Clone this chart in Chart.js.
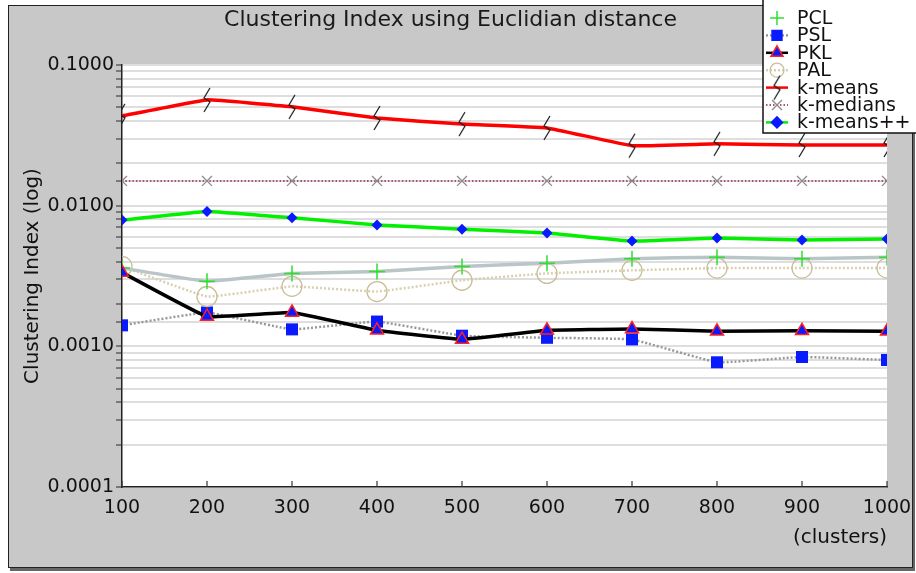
<!DOCTYPE html>
<html lang="en">
<head>
  <meta charset="UTF-8" />
  <title>Clustering Index using Euclidian distance</title>
  <script src="https://cdn.jsdelivr.net/npm/chart.js"></script>
  <style>
    html, body {
      margin: 0;
      padding: 0;
      background: white;
      width: 916px;
      height: 573px;
      overflow: hidden;
    }
    .frame {
      position: absolute;
      left: 8px;
      top: 5px;
      width: 903px;
      height: 561px;
      background: #c8c8c8;
      border: 1.5px solid #222;
      box-shadow: 2px 3px 0 #666;
    }
    canvas {
      position: absolute;
      left: 0;
      top: 0;
    }
  </style>
</head>
<body>

  <div class="frame"></div>
  <canvas id="chart" width="916" height="573"></canvas>

  <script>
    // cluster counts on the x axis
    const clusters = [100, 200, 300, 400, 500, 600, 700, 800, 900, 1000];

    // clustering index per method
    const pcl      = [0.0036, 0.0029, 0.0033, 0.0034, 0.0037, 0.0039, 0.0042, 0.0043, 0.0042, 0.0043];
    const psl      = [0.00141, 0.00174, 0.00132, 0.0015, 0.00119, 0.00115, 0.00112, 0.00077, 0.00084, 0.0008];
    const pkl      = [0.00335, 0.00163, 0.00174, 0.0013, 0.00112, 0.0013, 0.00133, 0.00128, 0.00129, 0.00128];
    const pal      = [0.0037, 0.00226, 0.00267, 0.00245, 0.00295, 0.0033, 0.00347, 0.0036, 0.0036, 0.0036];
    const kmeans   = [0.0435, 0.0565, 0.0504, 0.042, 0.038, 0.0357, 0.0267, 0.0275, 0.027, 0.027];
    const kmedians = [0.015, 0.015, 0.015, 0.015, 0.015, 0.015, 0.015, 0.015, 0.015, 0.015];
    const kmeanspp = [0.0079, 0.0091, 0.0082, 0.0073, 0.0068, 0.0064, 0.0056, 0.0059, 0.0057, 0.0058];

    const yTickLabels = ['0.0001', '0.0010', '0.0100', '0.1000'];

    // squiggle marker used by k-means
    function squiggle() {
      const c = document.createElement('canvas');
      c.width = 12; c.height = 26;
      const g = c.getContext('2d');
      g.strokeStyle = '#222';
      g.lineWidth = 1.3;
      g.beginPath();
      g.moveTo(9, 1);
      g.lineTo(3, 11);
      g.lineTo(9, 15);
      g.lineTo(3, 25);
      g.stroke();
      return c;
    }
    const zeta = squiggle();

    const pts = arr => arr.map((v, i) => ({ x: clusters[i], y: v }));

    const datasets = [
      { label: 'PCL', data: pts(pcl), borderColor: '#b9c5c7', borderWidth: 3.5,
        pointStyle: 'cross', pointRadius: 8, pointBorderColor: '#2ee02e', pointBorderWidth: 1.5,
        pointBackgroundColor: '#2ee02e', noLegendLine: true, order: 3 },
      { label: 'PSL', data: pts(psl), borderColor: '#999', borderWidth: 2.5, borderDash: [2, 2],
        pointStyle: 'rect', pointRadius: 8.5, pointBackgroundColor: '#0a1aff', pointBorderColor: '#0a1aff',
        pointBorderWidth: 0, order: 6 },
      { label: 'PKL', data: pts(pkl), borderColor: '#000', borderWidth: 3.5,
        pointStyle: 'triangle', pointRadius: 7.5, pointBackgroundColor: '#0a1aff', pointBorderColor: '#ff2020',
        pointBorderWidth: 1.5, order: 1 },
      { label: 'PAL', data: pts(pal), borderColor: '#d8d0b0', borderWidth: 2.5, borderDash: [2, 2],
        pointStyle: 'circle', pointRadius: 10, pointBackgroundColor: 'rgba(0,0,0,0)', pointBorderColor: '#cabd98',
        pointBorderWidth: 1.3, order: 5 },
      { label: 'k-means', data: pts(kmeans), borderColor: '#ff0000', borderWidth: 3.5,
        pointStyle: zeta, pointRadius: 8, order: 2 },
      { label: 'k-medians', data: pts(kmedians), borderColor: '#a8507e', borderWidth: 2, borderDash: [1.5, 2],
        pointStyle: 'crossRot', pointRadius: 7, pointBorderColor: '#8a8a8a', pointBorderWidth: 1.3, order: 7 },
      { label: 'k-means++', data: pts(kmeanspp), borderColor: '#00f000', borderWidth: 3.5,
        pointStyle: 'rectRot', pointRadius: 5.5, pointBackgroundColor: '#0a1aff', pointBorderColor: '#0a1aff',
        pointBorderWidth: 0, order: 0 }
    ];
    datasets.forEach(d => { d.tension = 0.08; d.fill = false; });

    const isDecade = v => Math.abs(Math.log10(v) - Math.round(Math.log10(v))) < 1e-6;

    const plotBackground = {
      id: 'plotBackground',
      beforeDraw(chart) {
        const { ctx, chartArea: a } = chart;
        ctx.save();
        ctx.fillStyle = '#fff';
        ctx.fillRect(a.left, a.top, a.right - a.left, a.bottom - a.top);
        ctx.restore();
      }
    };

    // x ticks point up into the plot
    const innerTicks = {
      id: 'innerTicks',
      afterDatasetsDraw(chart) {
        const { ctx, chartArea: a, scales } = chart;
        ctx.save();
        ctx.strokeStyle = '#333';
        ctx.lineWidth = 1.2;
        scales.x.ticks.forEach(t => {
          const px = scales.x.getPixelForValue(t.value);
          ctx.beginPath();
          ctx.moveTo(px, a.bottom);
          ctx.lineTo(px, a.bottom - 6);
          ctx.stroke();
        });
        ctx.restore();
      }
    };

    const boxLegend = {
      id: 'boxLegend',
      afterDraw(chart) {
        const { ctx } = chart;
        const x0 = 763, y0 = -2, w = 160, h = 135;
        ctx.save();
        ctx.fillStyle = '#fff';
        ctx.fillRect(x0, y0, w, h);
        ctx.strokeStyle = '#111';
        ctx.lineWidth = 1.5;
        ctx.strokeRect(x0, y0, w, h);
        ctx.font = '19px "DejaVu Sans"';
        ctx.textBaseline = 'middle';
        chart.data.datasets.forEach((d, i) => {
          const y = 18 + i * 17.4;
          if (!d.noLegendLine) {
            ctx.save();
            ctx.strokeStyle = d.borderColor;
            ctx.lineWidth = Math.min(d.borderWidth, 2.5);
            ctx.setLineDash(d.borderDash || []);
            ctx.beginPath();
            ctx.moveTo(766, y);
            ctx.lineTo(788, y);
            ctx.stroke();
            ctx.restore();
          }
          ctx.save();
          ctx.fillStyle = d.pointBackgroundColor || d.borderColor;
          ctx.strokeStyle = d.pointBorderColor || d.borderColor;
          ctx.lineWidth = d.pointBorderWidth !== undefined ? d.pointBorderWidth : 1;
          Chart.helpers.drawPoint(ctx, {
            pointStyle: d.pointStyle,
            radius: Math.min(d.pointRadius, 7),
            borderWidth: ctx.lineWidth,
            rotation: 0
          }, 777, y);
          ctx.restore();
          ctx.fillStyle = '#111';
          ctx.fillText(d.label, 797, y + 1);
        });
        ctx.restore();
      }
    };

    new Chart(document.getElementById('chart').getContext('2d'), {
      type: 'line',
      data: { datasets },
      plugins: [plotBackground, innerTicks, boxLegend],
      options: {
        responsive: false,
        animation: false,
        layout: { padding: { left: 14, right: 29, bottom: 23, top: 0 } },
        plugins: {
          legend: { display: false },
          tooltip: { enabled: false },
          title: {
            display: true,
            text: 'Clustering Index using Euclidian distance',
            color: '#1a1a1a',
            font: { family: 'DejaVu Sans', size: 22, weight: 'normal', lineHeight: 1.2 },
            padding: { top: 7, bottom: 31.6 }
          }
        },
        scales: {
          x: {
            type: 'linear',
            min: 100,
            max: 1000,
            afterBuildTicks(scale) {
              scale.ticks = clusters.map(v => ({ value: v }));
            },
            afterFit(scale) { scale.height = 63; },
            grid: { display: false },
            border: { color: '#222', width: 1.5 },
            ticks: {
              color: '#111',
              padding: 2,
              maxRotation: 0,
              font: { family: 'DejaVu Sans', size: 19 },
              callback: v => String(v)
            },
            title: {
              display: true,
              text: '(clusters)',
              align: 'end',
              color: '#111',
              font: { family: 'DejaVu Sans', size: 20 },
              padding: { top: 5, bottom: 0 }
            }
          },
          y: {
            type: 'logarithmic',
            min: 0.0001,
            max: 0.1,
            afterFit(scale) { scale.width = 108; },
            grid: { color: '#dedede', lineWidth: 2, tickLength: 6, tickColor: '#444', tickWidth: 1.2 },
            border: { color: '#222', width: 1.5 },
            ticks: {
              autoSkip: false,
              color: '#111',
              padding: 2,
              font: { family: 'DejaVu Sans', size: 19 },
              callback(v) {
                if (!isDecade(v)) return '';
                return yTickLabels[Math.round(Math.log10(v)) + 4];
              }
            },
            title: {
              display: true,
              text: 'Clustering Index (log)',
              color: '#111',
              font: { family: 'DejaVu Sans', size: 20 },
              padding: { top: 7, bottom: 0 }
            }
          }
        }
      }
    });
  </script>

</body>
</html>
